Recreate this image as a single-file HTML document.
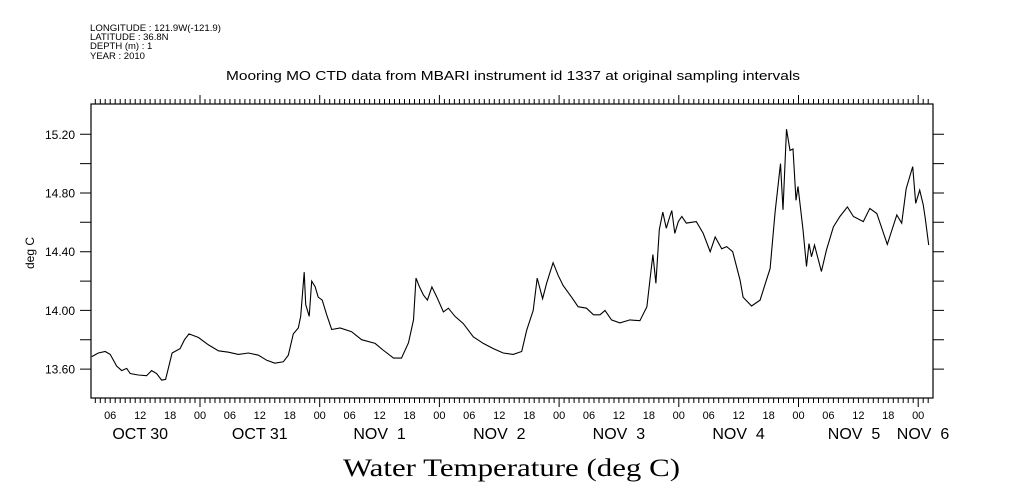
<!DOCTYPE html>
<html><head><meta charset="utf-8"><style>
html,body{margin:0;padding:0;background:#fff;}
svg{display:block;}
text{font-family:"Liberation Sans",sans-serif;fill:#000;}
</style></head><body>
<svg id="chart" width="1009" height="504" viewBox="0 0 1009 504" xmlns="http://www.w3.org/2000/svg">
<g font-size="9.5">
<text x="90" y="31" textLength="131" lengthAdjust="spacingAndGlyphs">LONGITUDE : 121.9W(-121.9)</text>
<text x="90" y="40">LATITUDE : 36.8N</text>
<text x="90" y="49">DEPTH (m) : 1</text>
<text x="90" y="59">YEAR : 2010</text>
</g>
<text x="226" y="80" font-size="13" textLength="574" lengthAdjust="spacingAndGlyphs">Mooring MO CTD data from MBARI instrument id 1337 at original sampling intervals</text>
<text transform="translate(34,253) rotate(-90)" font-size="12" text-anchor="middle">deg C</text>
<text x="343" y="476" font-size="25" style="font-family:'Liberation Serif',serif" textLength="337" lengthAdjust="spacingAndGlyphs">Water Temperature (deg C)</text>
<rect x="91" y="104" width="842" height="294" fill="none" stroke="#000" stroke-width="1.2"/>
<g id="axes"></g>
<path id="line" fill="none" stroke="#000" stroke-width="1.1"/>
</svg>
<script>
// hours since Oct 30 00:00, 2010
const hours = [2.3,3.6,5,6,7.3,8.3,9.3,10,11.6,13.3,14.3,15.3,16.3,17.1,18.4,20,20.9,21.8,23.7,25.7,27.7,29.7,31.7,33.7,35.7,37.4,39,40.7,41.7,42.7,43.7,44.2,44.9,45.2,45.9,46.4,47.1,47.7,48.5,49.4,50.4,52.1,54.4,56.4,59.1,60.7,62.8,64.4,65.8,66.8,67.3,68,68.8,69.6,70.5,71.5,72.8,73.8,75.1,76.8,78.8,80.8,82.8,84.8,86.8,88.5,89.5,90.8,91.6,92.7,93.5,94.1,94.8,95.8,96.8,98.5,99.8,101.5,102.9,104.2,105.2,106.5,108.2,110.2,112.2,113.6,114.2,114.8,115.4,116.1,116.8,117.5,118.2,118.6,119.2,119.9,120.6,121.5,123.5,124.9,126.3,127.3,128.6,129.6,130.8,132.3,132.9,134.6,136.3,137.5,138.3,139.3,140.4,140.9,141.6,142.3,142.9,143.5,143.9,144.9,145.6,146.1,146.6,147.2,148.6,149.6,151,152.3,153.8,155,157,158.3,159.7,161.8,163.7,164.7,165.6,166.9,167.5,168.3,169,169.4,170.1];
const temps = [13.685,13.71,13.72,13.70,13.62,13.59,13.605,13.57,13.56,13.555,13.59,13.57,13.525,13.53,13.71,13.74,13.80,13.84,13.815,13.765,13.725,13.715,13.70,13.71,13.695,13.66,13.64,13.65,13.695,13.84,13.88,13.96,14.26,14.04,13.96,14.20,14.16,14.09,14.07,13.97,13.87,13.88,13.855,13.80,13.775,13.73,13.675,13.675,13.78,13.935,14.22,14.16,14.105,14.07,14.16,14.09,13.99,14.015,13.96,13.91,13.82,13.775,13.74,13.71,13.70,13.72,13.865,14.0,14.22,14.08,14.185,14.25,14.325,14.24,14.17,14.09,14.025,14.015,13.97,13.97,14.0,13.935,13.915,13.935,13.93,14.025,14.205,14.38,14.185,14.55,14.67,14.56,14.64,14.68,14.525,14.605,14.64,14.595,14.605,14.525,14.40,14.50,14.42,14.435,14.40,14.205,14.09,14.03,14.07,14.20,14.285,14.67,15.0,14.685,15.235,15.09,15.10,14.75,14.845,14.55,14.30,14.455,14.365,14.445,14.265,14.41,14.57,14.64,14.705,14.64,14.605,14.695,14.66,14.45,14.65,14.595,14.83,14.98,14.73,14.82,14.72,14.63,14.445];
const yTicks = [13.6,13.8,14.0,14.2,14.4,14.6,14.8,15.0,15.2];
const yTickLabels = ["13.60","","14.00","","14.40","","14.80","","15.20"];
const hourLabels = ["00","06","12","18"];
const dayLabels = ["OCT 30","OCT 31","NOV  1","NOV  2","NOV  3","NOV  4","NOV  5","NOV  6"];

const L=91,R=933,T=104,B=398;
const x = h => 80.3 + h*119.7/24;
const y = v => 134.3 + (15.2 - v)*146.75;
const NS='http://www.w3.org/2000/svg';
const ax=document.getElementById('axes');
function mk(tag,attrs,parent){const e=document.createElementNS(NS,tag);for(const k in attrs)e.setAttribute(k,attrs[k]);(parent||ax).appendChild(e);return e;}

let d='';
for(let h=0;h<=175;h++){
  const xx=x(h); if(xx<L-0.1||xx>R+0.1) continue;
  const major = h%24===0;
  d+=`M${xx.toFixed(1)},${B}V${B+(major?9:5)}M${xx.toFixed(1)},${T}V${T-(major?9:5)}`;
}
yTicks.forEach(v=>{const yy=y(v).toFixed(1);d+=`M${L-11},${yy}H${L}M${R},${yy}H${R+11}`;});
const tp=mk('path',{d:d,stroke:'#000','stroke-width':1,fill:'none'});



yTicks.forEach((v,i)=>{ if(!yTickLabels[i]) return;
  const t=mk('text',{x:75,y:(y(v)+4.5).toFixed(1),'font-size':12,'text-anchor':'end'});
  t.textContent=yTickLabels[i];
  
  
});
for(let h=6;h<=175;h+=6){
  const xx=x(h); if(xx>R) break;
  const t=mk('text',{x:xx.toFixed(1),y:419,'font-size':11,'text-anchor':'middle'});
  t.textContent=hourLabels[(h/6)%4];
  
  
}
dayLabels.forEach((s,i)=>{
  let cx = x(i*24+12);
  if(i===6) cx=854; if(i===7) cx=923;
  const t=mk('text',{x:cx.toFixed(1),y:439,'font-size':16,'text-anchor':'middle','xml:space':'preserve'});
  t.setAttribute('style','white-space:pre');
  t.textContent=s;
  
  
});
document.getElementById('line').setAttribute('d', hours.map((h,i)=>(i?'L':'M')+x(h).toFixed(1)+','+y(temps[i]).toFixed(1)).join(''));
</script>
</body></html>
